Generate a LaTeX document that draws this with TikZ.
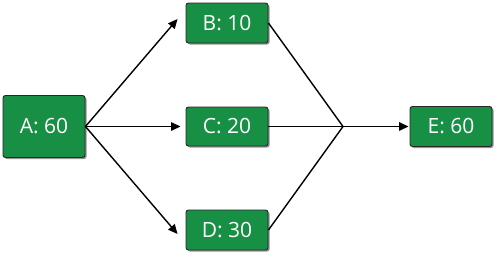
\documentclass[tikz,border=0pt]{standalone}
\usepackage{fontspec}
\setmainfont{Open Sans}
\usetikzlibrary{shadows,arrows.meta}
\definecolor{boxgreen}{HTML}{178F45}
\tikzset{
  taskbox/.style={draw=black!85, line width=0.9pt, fill=boxgreen, rounded corners=2.5pt,
    text=white, font=\fontsize{21}{25}\selectfont, inner sep=0pt,
    drop shadow={shadow xshift=1.6pt, shadow yshift=-1.6pt, fill=black!60, opacity=0.7}},
  conn/.style={line width=1.4pt, black},
  arr/.style={conn, -{Triangle[length=9.5pt, width=8.5pt]}}
}
\begin{document}
\begin{tikzpicture}[x=1pt, y=-1pt]
\useasboundingbox (0,0) rectangle (500,257);
\node[taskbox, minimum width=82pt, minimum height=62pt] (A) at (44,126.5) {A: 60};
\node[taskbox, minimum width=82pt, minimum height=40pt] (B) at (227,23) {B: 10};
\node[taskbox, minimum width=82pt, minimum height=39pt] (C) at (227,126.5) {C: 20};
\node[taskbox, minimum width=82pt, minimum height=40pt] (D) at (227,230) {D: 30};
\node[taskbox, minimum width=82pt, minimum height=40pt] (E) at (451,126.5) {E: 60};
\coordinate (J) at (343,126.5);
\draw[arr] (A.east) -- ([xshift=-8pt, yshift=4pt]B.west);
\draw[arr] (A.east) -- ([xshift=-5pt]C.west);
\draw[arr] (A.east) -- ([xshift=-8pt, yshift=-4pt]D.west);
\draw[conn, line join=miter] (B.east) -- (J) -- (D.east);
\draw[conn] (C.east) -- (J);
\draw[arr] (J) -- ([xshift=-1pt]E.west);
\end{tikzpicture}
\end{document}
